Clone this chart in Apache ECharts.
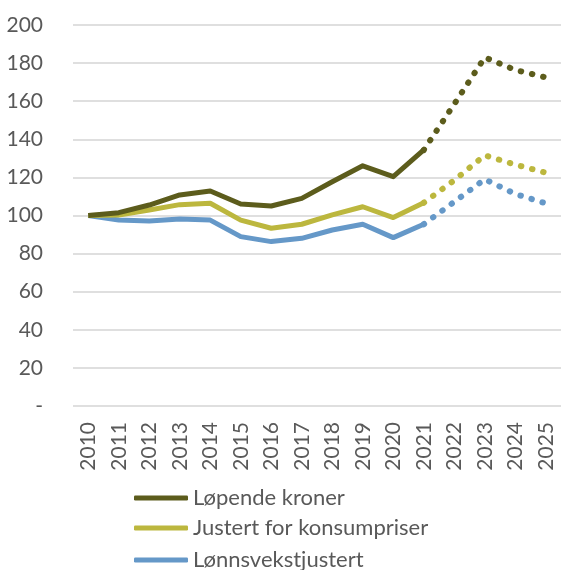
<!DOCTYPE html>
<html>
<head>
<meta charset="utf-8">
<script src="https://cdn.jsdelivr.net/npm/echarts@6/dist/echarts.min.js"></script>
<style>
  html, body { margin: 0; padding: 0; background: #fff; }
  #chart { width: 561px; height: 570px; }
</style>
</head>
<body>
<div id="chart"></div>
<script>
  // år på x-aksen
  var years = ['2010', '2011', '2012', '2013', '2014', '2015', '2016', '2017',
               '2018', '2019', '2020', '2021', '2022', '2023', '2024', '2025']
  // indeks, 2010 = 100 (2021-2025 vises prikket)
  var lopende = [100, 101.5, 105.5, 110.8, 112.9, 106, 105, 109, 117.7, 126.1, 120.4, 134.4, 158.5, 183, 176.4, 172.5]
  var konsum = [100, 100.3, 102.9, 105.7, 106.4, 97.6, 93.3, 95.4, 100.3, 104.6, 98.9, 106.7, 118.5, 131.6, 126.7, 122.5]
  var lonn = [100, 97.6, 97.1, 98.2, 97.6, 88.9, 86.3, 88, 92.4, 95.4, 88.4, 95.4, 107.2, 119, 111.3, 106.4]
  var names = ['Løpende kroner', 'Justert for konsumpriser', 'Lønnsvekstjustert']
  var colors = ['#5c5c1c', '#bcb73e', '#6598c8']
  var lastActual = 2021

  var font = 'Lato'
  var fs = 21
  var cut = years.indexOf(String(lastActual))

  function solid(arr) {
    return arr.map(function (v, i) { return i <= cut ? v : null })
  }
  function dotted(arr) {
    return arr.map(function (v, i) { return i >= cut ? v : null })
  }

  var series = []
  ;[lopende, konsum, lonn].forEach(function (arr, k) {
    series.push({
      name: names[k], type: 'line', data: solid(arr),
      showSymbol: false, symbol: 'none', silent: true,
      itemStyle: { color: colors[k] },
      lineStyle: { color: colors[k], width: 5, join: 'round' },
      z: 3 - k
    })
    series.push({
      name: names[k], type: 'line', data: dotted(arr),
      showSymbol: false, symbol: 'none', silent: true,
      itemStyle: { color: colors[k] },
      lineStyle: { color: colors[k], width: 6, type: [0.5, 11], cap: 'round' },
      z: 3 - k
    })
  })

  // én legend per serie, så de ligger under hverandre uten å brytes i kolonner
  var legendTops = [486, 516, 548]
  var legends = names.map(function (n, k) {
    return {
      orient: 'vertical',
      left: 134, top: legendTops[k], padding: 0,
      itemWidth: 54, itemHeight: 5,
      icon: 'roundRect',
      data: [n],
      textStyle: { color: '#595959', fontSize: 22, fontFamily: font, lineHeight: 24 }
    }
  })

  var chart = echarts.init(document.getElementById('chart'))
  chart.setOption({
    animation: false,
    textStyle: { fontFamily: font },
    grid: { left: 73, right: 0, top: 25, bottom: 164, containLabel: false },
    xAxis: {
      type: 'category',
      data: years,
      boundaryGap: true,
      axisLine: { show: false },
      axisTick: { show: false },
      axisLabel: { rotate: 90, margin: 16, color: '#595959', fontSize: fs, fontFamily: font }
    },
    yAxis: {
      type: 'value',
      min: 0, max: 200, interval: 20,
      axisLine: { show: false },
      axisTick: { show: false },
      splitLine: { lineStyle: { color: '#d4d4d4', width: 1.5 } },
      axisLabel: {
        color: '#595959', fontSize: fs, fontFamily: font, margin: 30,
        formatter: function (v) { return v === 0 ? '-' : v }
      }
    },
    legend: legends,
    series: series
  })
</script>
</body>
</html>
